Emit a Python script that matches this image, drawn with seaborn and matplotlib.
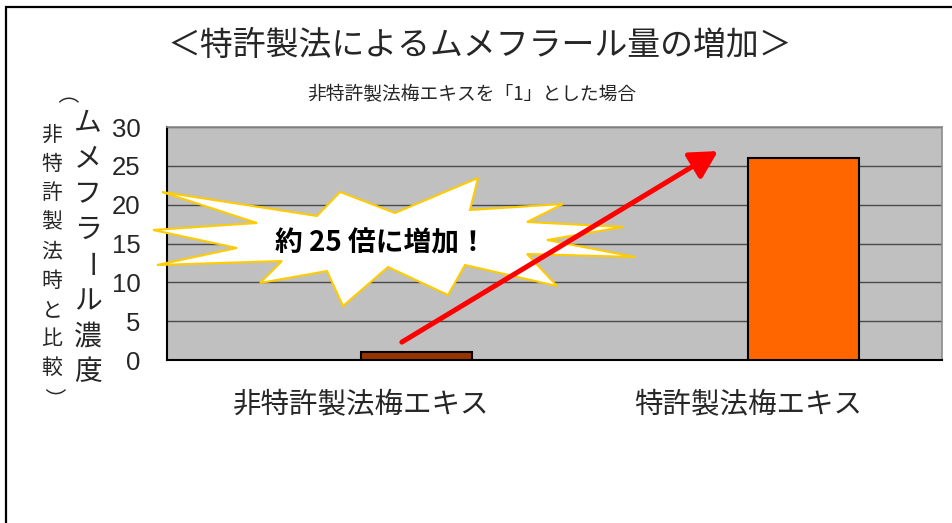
import numpy as np
import pandas as pd
import matplotlib
matplotlib.use("Agg")
import matplotlib.pyplot as plt
import seaborn as sns
from matplotlib.patches import Polygon, Rectangle, FancyArrowPatch

# ── DATA ────────────────────────────────────────────────────────────────────
CATEGORIES = ["非特許製法梅エキス", "特許製法梅エキス"]
VALUES     = [1.0, 26.0]
BAR_COLORS = ["#993300", "#FF6600"]
SERIES     = ["blank", "ムメフラール"]   # first Excel series is empty -> bars sit right of centre
Y_TICKS    = [0, 5, 10, 15, 20, 25, 30]

TITLE    = "＜特許製法によるムメフラール量の増加＞"
SUBTITLE = "非特許製法梅エキスを「1」とした場合"
Y_LABEL  = "ムメフラール濃度"
Y_NOTE   = "（非特許製法時と比較）"
CALLOUT  = "約 25 倍に増加！"

# starburst callout outline (figure pixels, origin top-left)
STAR_PX = [(162, 192), (317, 216), (340, 192), (395, 213), (478, 178), (470, 210),
           (563, 204), (527, 222), (623, 227), (547, 240), (635, 257), (527, 254),
           (557, 286), (465, 265), (448, 295), (388, 267), (343, 306), (327, 271),
           (260, 283), (282, 261), (157, 265), (237, 248), (153, 230), (257, 223)]

# arrow, data coordinates (category units, value units)
ARROW_FROM = (0.106, 2.3)
ARROW_TO   = (0.922, 26.9)

W, H = 952, 523
FONT_CJK = ["Noto Sans CJK JP", "DejaVu Sans"]

# ── FIGURE ──────────────────────────────────────────────────────────────────
sns.set_style("white")
plt.rcParams["font.family"] = FONT_CJK

fig = plt.figure(figsize=(W / 100, H / 100), dpi=100)
fig.patch.set_facecolor("white")
ax = fig.add_axes([167 / W, 1 - 360 / H, (942 - 167) / W, (360 - 127) / H])
ax.set_facecolor("#C0C0C0")

df = pd.DataFrame({"category": CATEGORIES, "value": VALUES, "series": SERIES[1]})
sns.barplot(data=df, x="category", y="value", hue="series", hue_order=SERIES,
            order=CATEGORIES, width=0.572, dodge=True, legend=False, ax=ax,
            edgecolor="black", linewidth=1.5, saturation=1, zorder=3)

bars = sorted([p for p in ax.patches if np.isfinite(p.get_height())], key=lambda p: p.get_x())
for p, c in zip(bars, BAR_COLORS):
    p.set_facecolor(c)

ax.set_xlim(-0.5, 1.5)
ax.set_ylim(0, 30)
ax.set_yticks(Y_TICKS)
ax.yaxis.grid(True, color="#4a4a4a", linewidth=1.0, zorder=1)
ax.set_axisbelow(True)
ax.set_xlabel("")
ax.set_ylabel("")

ax.tick_params(axis="y", direction="in", length=7, width=1, color="black", pad=19,
               labelsize=18.5)
for lab in ax.get_yticklabels():
    lab.set_fontfamily("Liberation Sans")
ax.tick_params(axis="x", length=0, pad=22, labelsize=20.5)
ax.set_xticks([-0.5, 0.5, 1.5], minor=True)
ax.tick_params(axis="x", which="minor", direction="in", length=7, width=1, color="black")

for side in ["top", "right"]:
    ax.spines[side].set_color("#8c8c8c")
    ax.spines[side].set_linewidth(1.2)
for side in ["left", "bottom"]:
    ax.spines[side].set_color("black")
    ax.spines[side].set_linewidth(1.5)

# starburst + arrow + text
star = Polygon([(x / W, 1 - y / H) for x, y in STAR_PX], closed=True,
               transform=fig.transFigure, facecolor="white", edgecolor="#FFCC00",
               linewidth=1.5, zorder=5, clip_on=False)
ax.add_patch(star)

arrow = FancyArrowPatch(ARROW_FROM, ARROW_TO, arrowstyle="-|>,head_length=1.1,head_width=0.6",
                        mutation_scale=15, color="#FF0000", linewidth=3.6, zorder=6,
                        shrinkA=0, shrinkB=0)
ax.add_patch(arrow)

fig.text(381 / W, 1 - 243 / H, CALLOUT, ha="center", va="center", fontsize=20,
         fontweight="bold", color="black", zorder=7)

# titles
fig.text(480 / W, 1 - 46 / H, TITLE, ha="center", va="center", fontsize=23.7)
fig.text(472 / W, 1 - 95 / H, SUBTITLE, ha="center", va="center", fontsize=13.5)

# vertical axis titles, one glyph per line; long-vowel mark and brackets turned
def vertical_text(s, x, y0, y1, size):
    ys = np.linspace(y0, y1, len(s))
    for ch, y in zip(s, ys):
        rot = -90 if ch in "ー（）" else 0
        fig.text(x / W, 1 - y / H, ch, ha="center", va="center", fontsize=size,
                 rotation=rot, rotation_mode="anchor")

vertical_text(Y_LABEL, 88, 123, 372, 20)
vertical_text(Y_NOTE, 52, 106, 397, 15)

# outer frame (cut off at right and bottom in the original)
fig.patches.append(Rectangle((6 / W, -0.1), 1.2, 1.1 - 7 / H, transform=fig.transFigure,
                             fill=False, edgecolor="black", linewidth=1.6))

fig.savefig("out.png", dpi=100)
